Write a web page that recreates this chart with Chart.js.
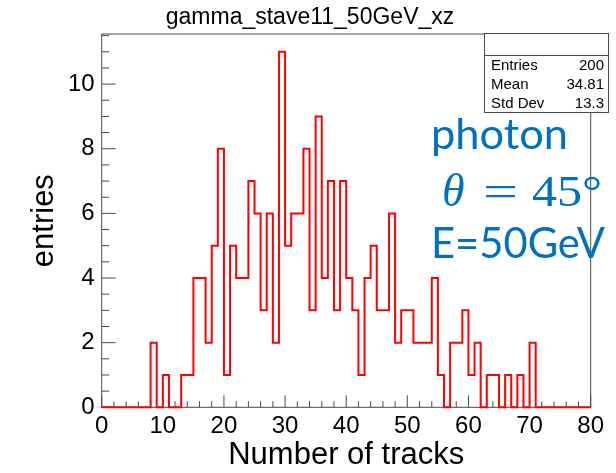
<!DOCTYPE html>
<html>
<head>
<meta charset="UTF-8">
<title>gamma_stave11_50GeV_xz</title>
<script src="https://cdn.jsdelivr.net/npm/chart.js"></script>
<style>
    html, body { margin: 0; padding: 0; background: #fff; }
    #hist { display: block; }
</style>
</head>
<body>
<canvas id="hist" width="616" height="473"></canvas>
<script>
    // histogram: 80 bins of width 1 from 0 to 80
    const histTitle = 'gamma_stave11_50GeV_xz';
    const binLow = 0;
    const binWidth = 1;
    const counts = [
        0, 0, 0, 0, 0, 0, 0, 0, 2, 0,
        1, 0, 0, 1, 1, 4, 4, 2, 5, 8,
        1, 5, 4, 4, 7, 6, 3, 6, 2, 11,
        5, 6, 6, 8, 3, 9, 4, 7, 3, 7,
        4, 3, 1, 4, 5, 3, 3, 6, 2, 3,
        3, 2, 2, 2, 4, 1, 0, 2, 2, 3,
        1, 2, 0, 1, 1, 0, 1, 0, 1, 0,
        2, 0, 0, 0, 0, 0, 0, 0, 0, 0
    ];
    const xTickValues = [0, 10, 20, 30, 40, 50, 60, 70, 80];
    const yTickValues = [0, 2, 4, 6, 8, 10];
    const yMax = 11.55;
    const statsLabels = ['Entries', 'Mean', 'Std Dev'];
    const statsValues = ['200', '34.81', '13.3'];

    const blue = '#0070c0';
    const sans = '"Liberation Sans", Arial, sans-serif';
    const noteSans = 'Lato, "Open Sans", sans-serif';
    const noteSerif = '"Liberation Serif", serif';

    // step outline: one point per bin low edge, plus the last edge
    const points = counts.map((c, i) => ({ x: binLow + i * binWidth, y: c }));
    points.push({ x: binLow + counts.length * binWidth, y: 0 });

    // draw text at a given size, stretched sideways to the given width
    function fitText(ctx, text, x, y, width, font) {
        ctx.font = font;
        const k = width / ctx.measureText(text).width;
        ctx.save();
        ctx.translate(x, y);
        ctx.scale(k, 1);
        ctx.fillText(text, 0, 0);
        ctx.restore();
    }

    const rootStyle = {
        id: 'rootStyle',
        beforeDatasetsDraw(chart) {
            const { ctx, chartArea: a, scales: { x, y } } = chart;
            ctx.save();
            ctx.strokeStyle = '#4a4a4a';
            ctx.lineWidth = 1;
            ctx.strokeRect(a.left, a.top, a.right - a.left, a.bottom - a.top);
            ctx.beginPath();
            // ticks inside the frame
            for (let v = 0; v <= 80; v += 2) {
                const px = x.getPixelForValue(v);
                const len = v % 10 === 0 ? 12 : 6;
                ctx.moveTo(px, a.bottom);
                ctx.lineTo(px, a.bottom - len);
            }
            for (let v = 0; v <= yMax; v += 0.5) {
                const py = y.getPixelForValue(v);
                const len = v % 2 === 0 ? 14 : 7.5;
                ctx.moveTo(a.left, py);
                ctx.lineTo(a.left + len, py);
            }
            ctx.stroke();
            ctx.restore();
        },
        afterDraw(chart) {
            const { ctx } = chart;
            ctx.save();

            // title
            ctx.fillStyle = '#000';
            ctx.font = '23px ' + sans;
            ctx.textAlign = 'center';
            ctx.textBaseline = 'alphabetic';
            ctx.fillText(histTitle, 310, 24);

            // stats box
            const bx = 484, by = 33, bw = 124, bh = 79, head = 22;
            ctx.fillStyle = '#fff';
            ctx.fillRect(bx, by, bw, bh);
            ctx.strokeStyle = '#4a4a4a';
            ctx.lineWidth = 1;
            ctx.strokeRect(bx + 0.5, by + 0.5, bw, bh);
            ctx.beginPath();
            ctx.moveTo(bx, by + head + 0.5);
            ctx.lineTo(bx + bw, by + head + 0.5);
            ctx.stroke();
            ctx.fillStyle = '#000';
            ctx.font = '15px ' + sans;
            ctx.textBaseline = 'middle';
            const rowH = (bh - head) / statsLabels.length;
            statsLabels.forEach((lab, i) => {
                const ty = by + head + rowH * (i + 0.5) + 1;
                ctx.textAlign = 'left';
                ctx.fillText(lab, bx + 7, ty);
                ctx.textAlign = 'right';
                ctx.fillText(statsValues[i], bx + bw - 4, ty);
            });

            // annotation
            ctx.fillStyle = blue;
            ctx.textAlign = 'left';
            ctx.textBaseline = 'alphabetic';
            fitText(ctx, 'photon', 431, 149, 137, '42px ' + noteSans);
            ctx.font = 'italic 46px ' + noteSerif;
            ctx.fillText('\u03b8', 442, 206);
            fitText(ctx, '=', 483, 206, 35, '44px ' + noteSerif);
            fitText(ctx, '45\u00b0', 532, 206, 70, '44px ' + noteSerif);
            fitText(ctx, 'E=50GeV', 431, 258, 174, '42px ' + noteSans);
            ctx.restore();
        }
    };

    new Chart(document.getElementById('hist'), {
        type: 'line',
        data: {
            datasets: [{
                data: points,
                stepped: 'before',
                borderColor: '#ff0000',
                borderWidth: 2,
                pointRadius: 0,
                fill: false,
                clip: false
            }]
        },
        options: {
            responsive: false,
            animation: false,
            layout: { padding: { top: 34, right: 25.3, left: 0, bottom: 0 } },
            plugins: { legend: { display: false }, tooltip: { enabled: false } },
            scales: {
                x: {
                    type: 'linear',
                    min: 0,
                    max: 80,
                    grid: { display: false, drawTicks: false },
                    border: { display: false },
                    afterFit: s => { s.height = 65.7; },
                    afterBuildTicks: s => { s.ticks = xTickValues.map(v => ({ value: v })); },
                    ticks: { color: '#000', font: { family: sans, size: 24 }, padding: 5, maxRotation: 0, autoSkip: false },
                    title: {
                        display: true, text: 'Number of tracks', color: '#000',
                        font: { family: sans, size: 31, lineHeight: 1 }, padding: { top: 0, bottom: 2 }
                    }
                },
                y: {
                    min: 0,
                    max: yMax,
                    grid: { display: false, drawTicks: false },
                    border: { display: false },
                    afterFit: s => { s.width = 101.7; },
                    afterBuildTicks: s => { s.ticks = yTickValues.map(v => ({ value: v })); },
                    ticks: { color: '#000', font: { family: sans, size: 24 }, padding: 7 },
                    title: {
                        display: true, text: 'entries', color: '#000',
                        font: { family: sans, size: 31, lineHeight: 1 }, padding: { top: 29, bottom: 0 }
                    }
                }
            }
        },
        plugins: [rootStyle]
    });
</script>
</body>
</html>
